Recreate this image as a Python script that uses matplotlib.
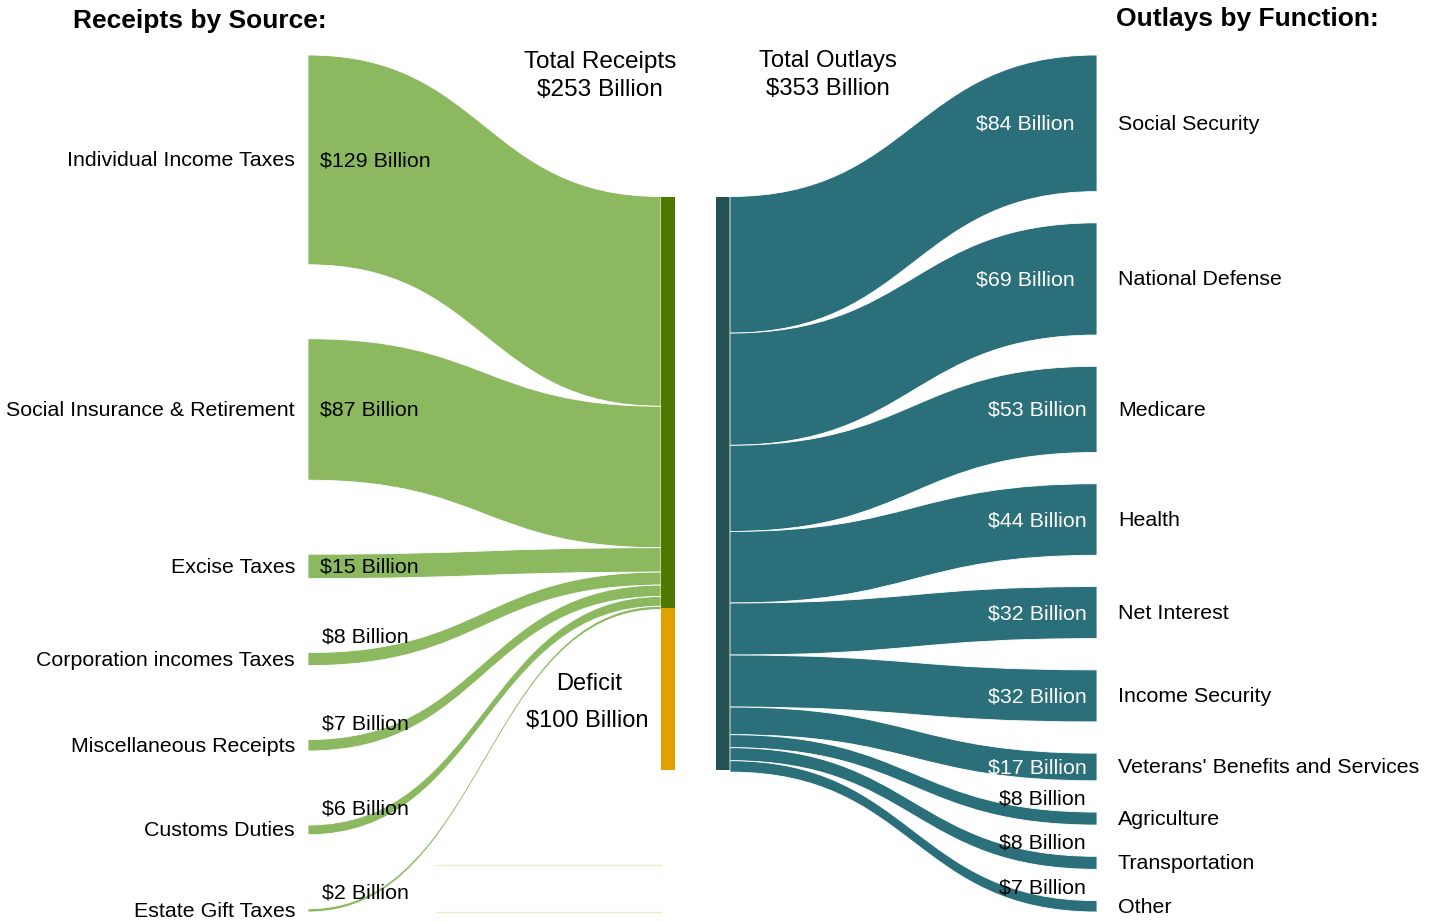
import matplotlib
matplotlib.use("Agg")
import matplotlib.pyplot as plt
from matplotlib.path import Path
from matplotlib.patches import PathPatch, Rectangle

plt.rcParams["font.family"] = ["Liberation Sans", "DejaVu Sans"]

# data (billions of dollars)
receipt_sources = [
    "Individual Income Taxes",
    "Social Insurance & Retirement",
    "Excise Taxes",
    "Corporation incomes Taxes",
    "Miscellaneous Receipts",
    "Customs Duties",
    "Estate Gift Taxes",
]
receipt_values = [129, 87, 15, 8, 7, 6, 2]
total_receipts = 253
deficit = 100

outlay_functions = [
    "Social Security",
    "National Defense",
    "Medicare",
    "Health",
    "Net Interest",
    "Income Security",
    "Veterans' Benefits and Services",
    "Agriculture",
    "Transportation",
    "Other",
]
outlay_values = [84, 69, 53, 44, 32, 32, 17, 8, 8, 7]
total_outlays = 353

# layout (pixels)
W, H = 1440, 922
TOP, BOTTOM = 55, 912
SCALE = 1.626
X_SRC = 308
X_RECV = (661, 675)
X_OUT = (716, 730)
X_FUNC = 1097

LIGHT_GREEN = "#8cb860"
DARK_GREEN = "#4e7800"
ORANGE = "#e0a100"
TEAL = "#2a6f7a"
DARK_TEAL = "#255252"
FS = 15.4
FS_BIG = 17.2


def column_positions(values):
    """Stack bands between TOP and BOTTOM with equal gaps."""
    heights = [v * SCALE for v in values]
    gap = (BOTTOM - TOP - sum(heights)) / (len(values) - 1)
    tops = []
    y = TOP
    for h in heights:
        tops.append(y)
        y += h + gap
    return tops, heights


def band(ax, x0, x1, y0a, y0b, y1a, y1b, color):
    xm = (x0 + x1) / 2.0
    verts = [(x0, y0a), (xm, y0a), (xm, y1a), (x1, y1a),
             (x1, y1b), (xm, y1b), (xm, y0b), (x0, y0b), (x0, y0a)]
    codes = [Path.MOVETO, Path.CURVE4, Path.CURVE4, Path.CURVE4,
             Path.LINETO, Path.CURVE4, Path.CURVE4, Path.CURVE4, Path.CLOSEPOLY]
    ax.add_patch(PathPatch(Path(verts, codes), facecolor=color,
                           edgecolor="white", linewidth=0.6))


fig = plt.figure(figsize=(W / 100, H / 100), dpi=100)
ax = fig.add_axes([0, 0, 1, 1])
ax.set_xlim(0, W)
ax.set_ylim(H, 0)
ax.axis("off")

mid_top = (TOP + BOTTOM) / 2.0 - total_outlays * SCALE / 2.0

# receipts side
src_tops, src_h = column_positions(receipt_values)
y_in = mid_top
for name, val, top, h in zip(receipt_sources, receipt_values, src_tops, src_h):
    band(ax, X_SRC, X_RECV[0], top, top + h, y_in, y_in + h, LIGHT_GREEN)
    y_in += h
    ax.text(295, top + h / 2 + 1, name, ha="right", va="center", fontsize=FS)
    if h > 20:
        ax.text(320, top + h / 2 + 1, f"${val} Billion", ha="left", va="center", fontsize=FS)
    else:
        ax.text(322, top - 16, f"${val} Billion", ha="left", va="center", fontsize=FS)

# faint deficit link outline
for yy in (865, 912):
    ax.plot([436, X_RECV[0]], [yy, yy], color="#f6e8c4", linewidth=1.0)

ax.add_patch(Rectangle((X_RECV[0], mid_top), X_RECV[1] - X_RECV[0],
                       total_receipts * SCALE, facecolor=DARK_GREEN, edgecolor="none"))
ax.add_patch(Rectangle((X_RECV[0], mid_top + total_receipts * SCALE), X_RECV[1] - X_RECV[0],
                       deficit * SCALE, facecolor=ORANGE, edgecolor="none"))

# outlays side
out_tops, out_h = column_positions(outlay_values)
ax.add_patch(Rectangle((X_OUT[0], mid_top), X_OUT[1] - X_OUT[0],
                       total_outlays * SCALE, facecolor=DARK_TEAL, edgecolor="none"))
y_out = mid_top
for i, (name, val, top, h) in enumerate(zip(outlay_functions, outlay_values, out_tops, out_h)):
    band(ax, X_OUT[1], X_FUNC, y_out, y_out + h, top, top + h, TEAL)
    y_out += h
    ax.text(1118, top + h / 2 + 1, name, ha="left", va="center", fontsize=FS)
    if h > 20:
        vx = 1075 if i < 2 else 1087
        ax.text(vx, top + h / 2 + 1, f"${val} Billion", ha="right", va="center",
                fontsize=FS, color="white")
    else:
        ax.text(1086, top - 13, f"${val} Billion", ha="right", va="center", fontsize=FS)

# headings and totals
ax.text(73, 21, "Receipts by Source:", ha="left", va="center", fontsize=19, fontweight="bold")
ax.text(1116, 19, "Outlays by Function:", ha="left", va="center", fontsize=19, fontweight="bold")
ax.text(600, 62, "Total Receipts", ha="center", va="center", fontsize=FS_BIG + 0.4)
ax.text(600, 90, f"${total_receipts} Billion", ha="center", va="center", fontsize=FS_BIG + 0.4)
ax.text(828, 61, "Total Outlays", ha="center", va="center", fontsize=FS_BIG)
ax.text(828, 89, f"${total_outlays} Billion", ha="center", va="center", fontsize=FS_BIG)
ax.text(589, 684, "Deficit", ha="center", va="center", fontsize=17)
ax.text(587, 721, f"${deficit} Billion", ha="center", va="center", fontsize=17)

fig.savefig("out.png", dpi=100, facecolor="white")
